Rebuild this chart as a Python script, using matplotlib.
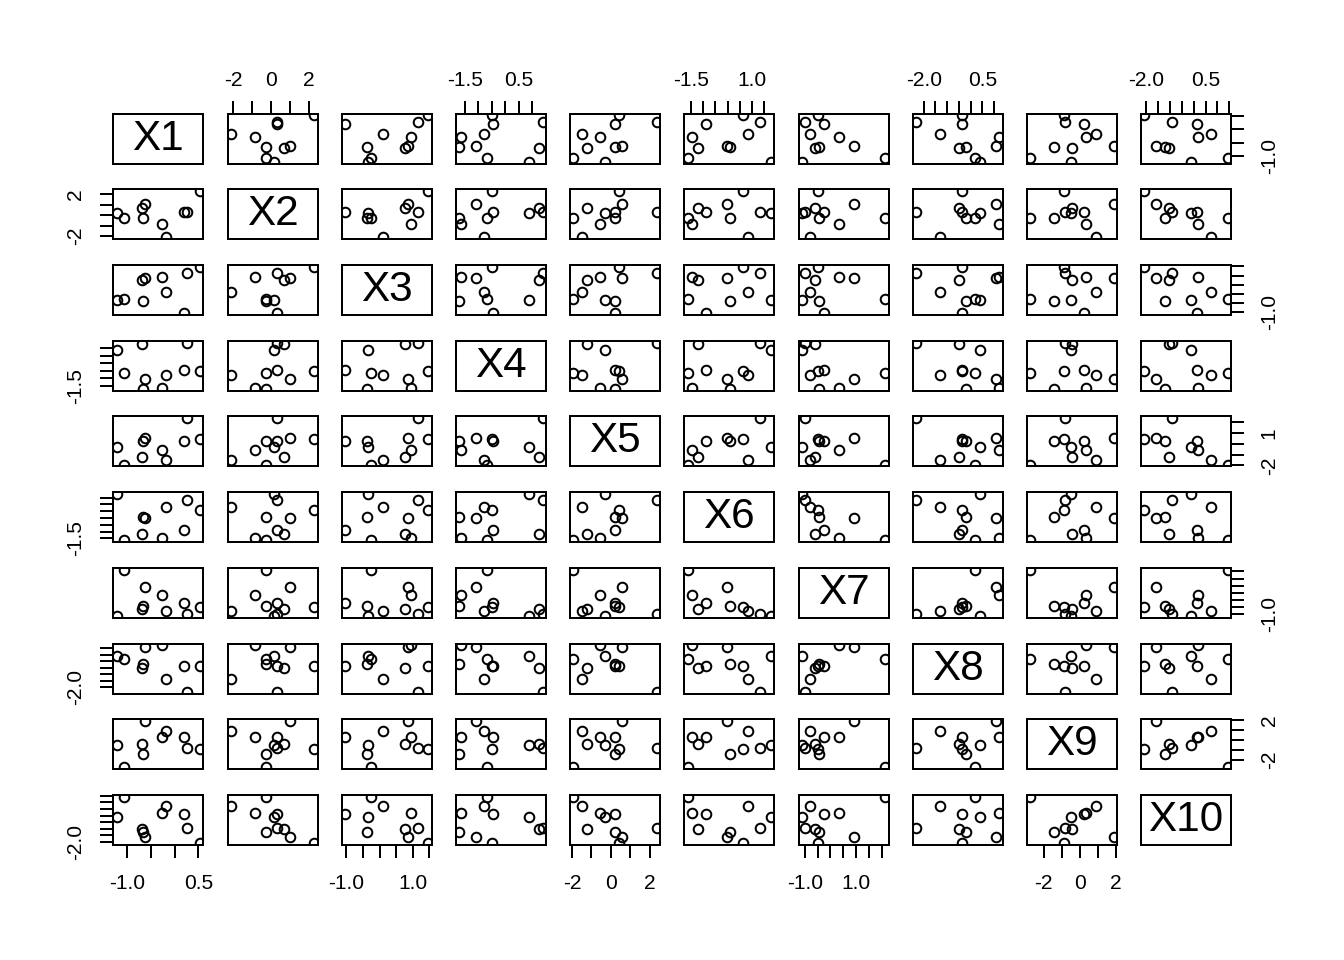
import numpy as np
import matplotlib
matplotlib.use("Agg")
import matplotlib.pyplot as plt

plt.rcParams['font.family'] = ['Liberation Sans', 'DejaVu Sans']

# ---- data (10 observations, 10 variables) ----
X1 = [-1.23, -1.07, -0.69, -0.67, -0.63, -0.28, -0.19, 0.20, 0.27, 0.534]
X2 = [0.167, -0.25, 0.70, -0.25, 1.02, -0.88, -2.13, 0.33, 0.29, 2.27]
X3 = [-0.34, -0.25, 0.77, -0.39, 0.86, 0.94, 0.11, -1.044, 1.145, 1.473]
X4 = [0.88, -0.68, 1.26, -1.707, -1.07, -1.65, -0.79, -0.45, 1.38, -0.50]
X5 = [-0.306, -1.922, -1.229, 0.216, 0.553, -0.554, -1.477, 0.216, 2.353, 0.399]
X6 = [1.770, -1.634, -1.198, 0.092, -0.031, -1.447, 0.837, -0.902, 1.334, 0.616]
X7 = [-1.114, 2.129, -0.615, -0.427, 0.929, 0.323, -0.777, -0.238, -1.010, -0.498]
X8 = [0.401, 0.194, -0.50, -0.194, 1.091, 1.23, -1.319, -0.372, -2.33, -0.372]
X9 = [-0.494, -2.735, -0.397, -1.393, 1.877, 0.332, 0.932, 0.267, -0.826, -0.890]
X10 = [-0.12, 1.435, -1.037, -1.214, -1.594, 0.181, 0.738, 0.132, -0.911, -2.087]

names = ["X1", "X2", "X3", "X4", "X5", "X6", "X7", "X8", "X9", "X10"]
data = [X1, X2, X3, X4, X5, X6, X7, X8, X9, X10]

# tick positions per variable
tick_pos = [
    [-1.0, -0.5, 0.0, 0.5],
    [-2, -1, 0, 1, 2],
    [-1.0, -0.5, 0.0, 0.5, 1.0, 1.5],
    [-1.5, -1.0, -0.5, 0.0, 0.5, 1.0],
    [-2, -1, 0, 1, 2],
    [-1.5, -1.0, -0.5, 0.0, 0.5, 1.0, 1.5],
    [-1.0, -0.5, 0.0, 0.5, 1.0, 1.5, 2.0],
    [-2.0, -1.5, -1.0, -0.5, 0.0, 0.5, 1.0],
    [-2, -1, 0, 1, 2],
    [-2.0, -1.5, -1.0, -0.5, 0.0, 0.5, 1.0, 1.5],
]
# labels shown on the horizontal axes (bottom for odd vars, top for even vars)
h_labels = [
    ["-1.0", "", "", "0.5"],
    ["-2", "", "0", "", "2"],
    ["-1.0", "", "", "", "1.0", ""],
    ["-1.5", "", "", "", "0.5", ""],
    ["-2", "", "0", "", "2"],
    ["-1.5", "", "", "", "", "1.0", ""],
    ["-1.0", "", "", "", "1.0", "", ""],
    ["-2.0", "", "", "", "", "0.5", ""],
    ["-2", "", "0", "", "2"],
    ["-2.0", "", "", "", "", "0.5", "", ""],
]
# labels shown on the vertical axes (right for odd vars, left for even vars)
v_labels = [
    ["-1.0", "", "", ""],
    ["-2", "", "", "", "2"],
    ["-1.0", "", "", "", "", ""],
    ["-1.5", "", "", "", "", ""],
    ["-2", "", "", "1", ""],
    ["-1.5", "", "", "", "", "", ""],
    ["-1.0", "", "", "", "", "", ""],
    ["-2.0", "", "", "", "", "", ""],
    ["-2", "", "", "", "2"],
    ["-2.0", "", "", "", "", "", "", ""],
]


def lims(v):
    lo, hi = min(v), max(v)
    r = hi - lo
    return lo - 0.04 * r, hi + 0.04 * r


W, H = 1344, 960
left0, top0 = 113.3, 113.6
dx, dy = 114.2, 75.7
pw, ph = 90.0, 50.0
lw = 0.75
tick_len = 4.75
fs_tick = 7.9

fig = plt.figure(figsize=(7, 5), dpi=192)
n = len(data)
for i in range(n):
    for j in range(n):
        x0 = left0 + j * dx
        y0 = top0 + i * dy
        ax = fig.add_axes([x0 / W, 1 - (y0 + ph) / H, pw / W, ph / H])
        for s in ax.spines.values():
            s.set_linewidth(lw)
            s.set_color("black")
        ax.tick_params(which="both", bottom=False, top=False, left=False, right=False,
                       labelbottom=False, labeltop=False, labelleft=False, labelright=False)
        if i == j:
            ax.set_xlim(0, 1)
            ax.set_ylim(0, 1)
            ax.text(0.5, 0.5, names[i], ha="center", va="center", fontsize=15.84)
            continue
        ax.plot(data[j], data[i], linestyle="none", marker="o", markersize=3.6,
                markerfacecolor="none", markeredgecolor="black", markeredgewidth=lw)
        ax.set_xlim(*lims(data[j]))
        ax.set_ylim(*lims(data[i]))
        # axes as in R pairs()
        if i == 0 and j % 2 == 1:
            ax.set_xticks(tick_pos[j])
            ax.set_xticklabels(h_labels[j])
            ax.tick_params(axis="x", top=True, labeltop=True, length=tick_len, width=lw,
                           labelsize=fs_tick, pad=4, direction="out")
        if i == n - 1 and j % 2 == 0:
            ax.set_xticks(tick_pos[j])
            ax.set_xticklabels(h_labels[j])
            ax.tick_params(axis="x", bottom=True, labelbottom=True, length=tick_len, width=lw,
                           labelsize=fs_tick, pad=6, direction="out")
        if j == 0 and i % 2 == 1:
            ax.set_yticks(tick_pos[i])
            ax.set_yticklabels(v_labels[i], rotation=90, va="center")
            ax.tick_params(axis="y", left=True, labelleft=True, length=tick_len, width=lw,
                           labelsize=fs_tick, pad=6, direction="out")
        if j == n - 1 and i % 2 == 0:
            ax.set_yticks(tick_pos[i])
            ax.set_yticklabels(v_labels[i], rotation=90, va="center")
            ax.tick_params(axis="y", right=True, labelright=True, length=tick_len, width=lw,
                           labelsize=fs_tick, pad=6, direction="out")

fig.savefig("out.png", dpi=192, facecolor="white")
